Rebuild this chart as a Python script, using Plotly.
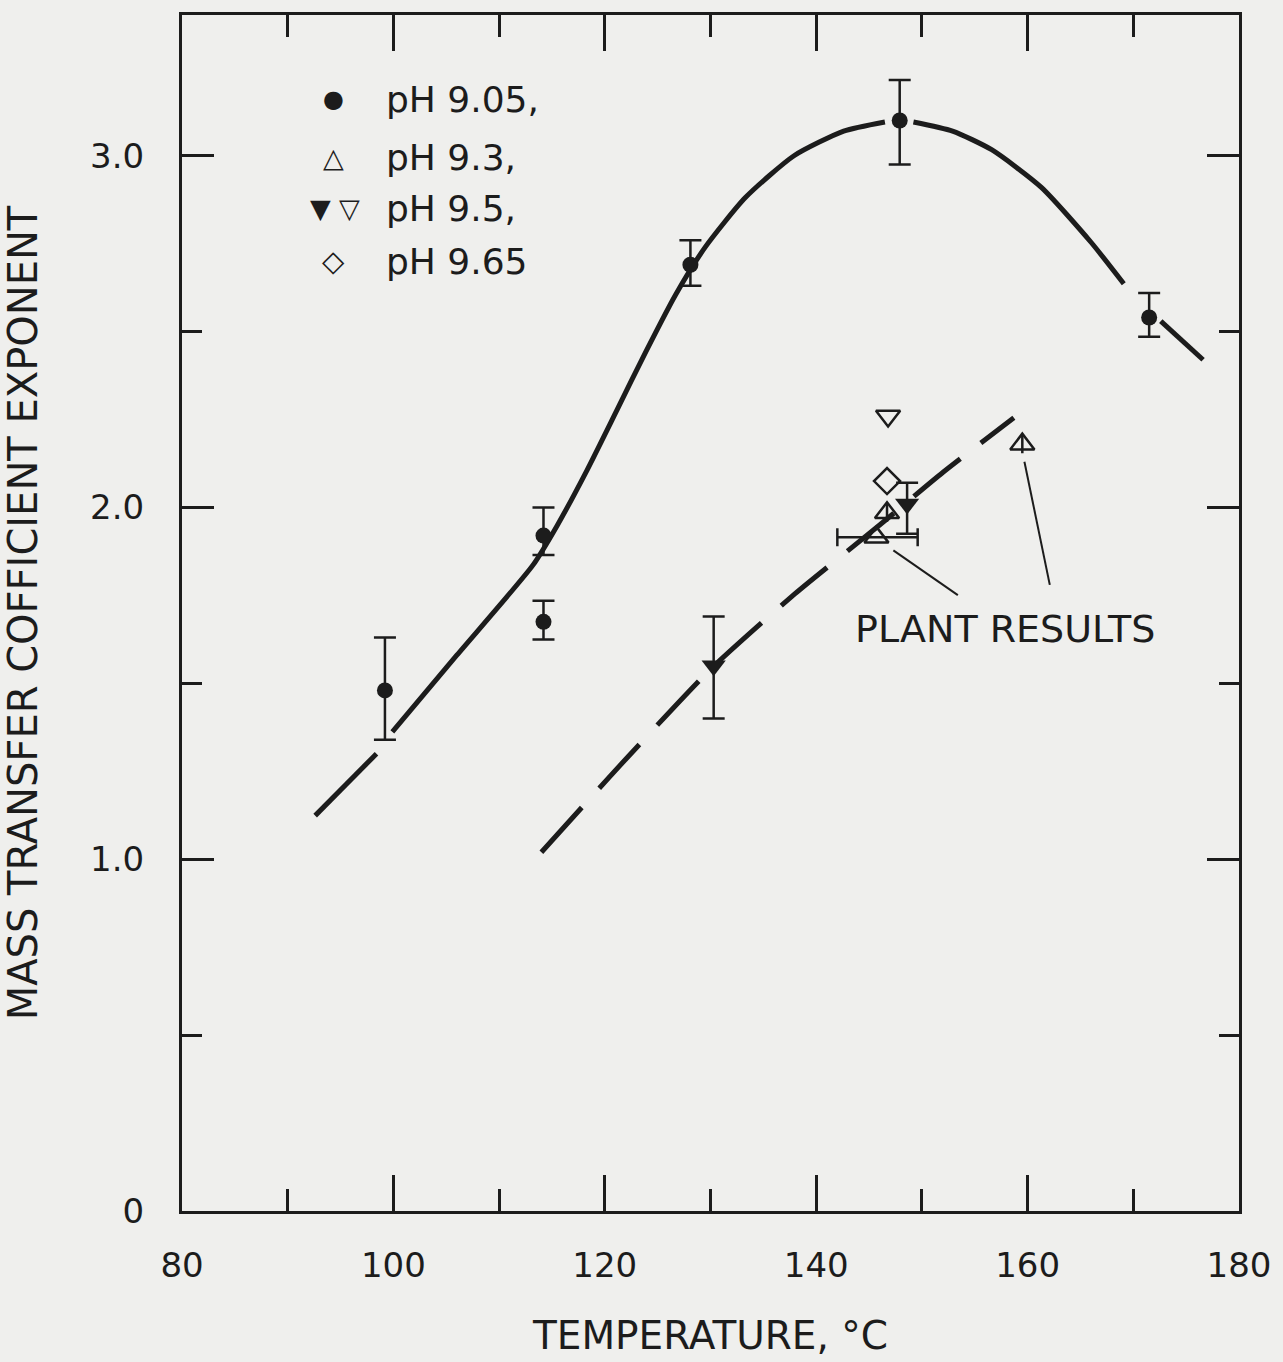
import plotly.graph_objects as go

# ---- data ----
# pH 9.05 (filled circles) with vertical error bars
ph905_T = [99.2, 114.2, 114.2, 128.1, 147.9, 171.5]
ph905_y = [1.48, 1.92, 1.675, 2.69, 3.10, 2.54]
ph905_ep = [0.15, 0.08, 0.06, 0.07, 0.115, 0.07]
ph905_em = [0.14, 0.055, 0.05, 0.06, 0.125, 0.055]

# pH 9.5 filled down-triangles with vertical error bars
ph95f_T = [130.3, 148.6]
ph95f_y = [1.55, 2.01]
ph95f_ep = [0.14, 0.06]
ph95f_em = [0.15, 0.085]

# pH 9.3 open triangles (plant results), first has a temperature error bar
ph93_T = [145.7, 146.7, 159.5]
ph93_y = [1.915, 1.985, 2.18]
ph93_xp = [3.9, None, None]
ph93_xm = [3.7, None, None]

# pH 9.5 open down-triangle, pH 9.65 open diamond
ph95o_T = [146.8]
ph95o_y = [2.26]
ph965_T = [146.7]
ph965_y = [2.075]

# upper fitted curve (pH 9.05); None = gap in the drawn line
curve1_T = [92.6, 98.4, None,
            99.9, 106.0, 113.2, 115.5, 118.3, 121.1, 123.9, 126.7,
            129.5, 133.3, 137.9, 142.6, 146.5, None,
            149.2, 152.9, 156.6, 161.3, 166.0, 169.1, None,
            172.6, 176.6]
curve1_y = [1.124, 1.30, None,
            1.362, 1.58, 1.836, 1.949, 2.105, 2.274, 2.444, 2.605,
            2.740, 2.881, 3.000, 3.070, 3.096, None,
            3.096, 3.070, 3.017, 2.910, 2.754, 2.636, None,
            2.53, 2.42]

# lower dashed curve
curve2_T = [114.0, 122.0, 130.0, 138.0, 146.0, 152.0, 158.7]
curve2_y = [1.02, 1.285, 1.54, 1.755, 1.95, 2.10, 2.255]

x_ticks = [80, 100, 120, 140, 160, 180]
y_ticks = [0, 1, 2, 3]
y_ticktext = ["0", "1.0", "2.0", "3.0"]

legend_labels = ["pH 9.05,", "pH 9.3,", "pH 9.5,", "pH 9.65"]

INK = "#1c1c1c"
BG = "#efefed"
FONT = "DejaVu Sans"

fig = go.Figure()

fig.add_trace(go.Scatter(x=curve1_T, y=curve1_y, mode="lines", line=dict(color=INK, width=5, shape="spline", smoothing=0.6),
                         connectgaps=False, showlegend=False, hoverinfo="skip"))
fig.add_trace(go.Scatter(x=curve2_T, y=curve2_y, mode="lines", line=dict(color=INK, width=5, shape="spline", smoothing=0.6, dash="60px,26px"),
                         showlegend=False, hoverinfo="skip"))

fig.add_trace(go.Scatter(x=ph905_T, y=ph905_y, mode="markers",
                         marker=dict(symbol="circle", size=16, color=INK),
                         error_y=dict(type="data", array=ph905_ep, arrayminus=ph905_em, color=INK, thickness=2.5, width=11),
                         showlegend=False))
fig.add_trace(go.Scatter(x=ph95f_T, y=ph95f_y, mode="markers",
                         marker=dict(symbol="triangle-down", size=21, color=INK),
                         error_y=dict(type="data", array=ph95f_ep, arrayminus=ph95f_em, color=INK, thickness=2.5, width=11),
                         showlegend=False))
fig.add_trace(go.Scatter(x=ph93_T, y=ph93_y, mode="markers",
                         marker=dict(symbol="triangle-up-open", size=21, color=INK, line=dict(width=2.5, color=INK)),
                         error_x=dict(type="data", array=ph93_xp, arrayminus=ph93_xm, color=INK, thickness=2.5, width=9),
                         showlegend=False))
fig.add_trace(go.Scatter(x=ph95o_T, y=ph95o_y, mode="markers",
                         marker=dict(symbol="triangle-down-open", size=21, color=INK, line=dict(width=2.5, color=INK)),
                         showlegend=False))
fig.add_trace(go.Scatter(x=ph965_T, y=ph965_y, mode="markers",
                         marker=dict(symbol="diamond-open", size=20, color=INK, line=dict(width=2.5, color=INK)),
                         showlegend=False))

# leader lines for the plant results
fig.add_shape(type="line", x0=147.3, y0=1.878, x1=153.4, y1=1.751, line=dict(color=INK, width=2))
fig.add_shape(type="line", x0=159.7, y0=2.13, x1=162.1, y1=1.78, line=dict(color=INK, width=2))
fig.add_annotation(x=157.9, y=1.655, text="PLANT RESULTS", showarrow=False,
                   font=dict(family=FONT, size=38, color=INK), xanchor="center", yanchor="middle")

# legend drawn as text
rows_y = [0.9295, 0.881, 0.838, 0.794]
for lbl, ry in zip(legend_labels, rows_y):
    fig.add_annotation(xref="paper", yref="paper", x=0.191, y=ry, text=lbl, showarrow=False,
                       xanchor="left", yanchor="middle", font=dict(family=FONT, size=36, color=INK))
sym = [("●", 0.143, rows_y[0], 24), ("△", 0.143, rows_y[1], 27), ("▼", 0.131, rows_y[2], 27),
       ("▽", 0.158, rows_y[2], 27), ("◇", 0.143, rows_y[3], 29)]
for s, sx, sy, ss in sym:
    fig.add_annotation(xref="paper", yref="paper", x=sx, y=sy, text=s, showarrow=False,
                       xanchor="center", yanchor="middle", font=dict(family=FONT, size=ss, color=INK))

fig.update_layout(
    width=1283, height=1362,
    margin=dict(l=182, r=33, t=15, b=141),
    paper_bgcolor=BG, plot_bgcolor=BG,
    showlegend=False,
    font=dict(family=FONT, color=INK),
)
fig.update_xaxes(range=[80, 180], tickvals=x_ticks, ticks="inside", ticklen=36, tickwidth=2.5, tickcolor=INK,
                 minor=dict(dtick=10, tick0=80, ticks="inside", ticklen=22, tickwidth=2.5, tickcolor=INK),
                 showline=True, linewidth=3, linecolor=INK, mirror="allticks", showgrid=False, zeroline=False,
                 tickfont=dict(family=FONT, size=34, color=INK), ticklabelstandoff=22,
                 title=dict(text="TEMPERATURE, °C", font=dict(family=FONT, size=39, color=INK), standoff=38))
fig.update_yaxes(range=[0, 3.4], tickvals=y_ticks, ticktext=y_ticktext, ticks="inside", ticklen=32, tickwidth=2.5, tickcolor=INK,
                 minor=dict(dtick=0.5, tick0=0, ticks="inside", ticklen=20, tickwidth=2.5, tickcolor=INK),
                 showline=True, linewidth=3, linecolor=INK, mirror="allticks", showgrid=False, zeroline=False,
                 tickfont=dict(family=FONT, size=34, color=INK), ticklabelstandoff=28,
                 title=dict(text="MASS TRANSFER COFFICIENT EXPONENT", font=dict(family=FONT, size=40, color=INK), standoff=46))

fig.write_html("out.html")
